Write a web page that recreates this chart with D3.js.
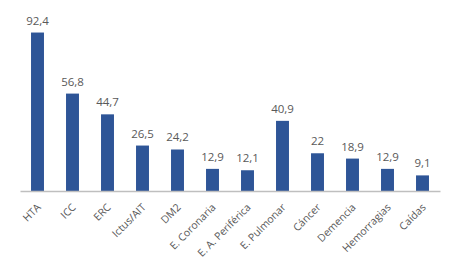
<!DOCTYPE html>
<html><head><meta charset="utf-8">
<script src="https://cdn.jsdelivr.net/npm/d3@7"></script>
<style>body{margin:0;background:#fff}svg{display:block}</style>
</head><body>
<script>
const categories = ["HTA","ICC","ERC","Ictus/AIT","DM2","E. Coronaria","E. A. Periférica","E. Pulmonar","Cáncer","Demencia","Hemorragias","Caídas"];
const values = [92.4,56.8,44.7,26.5,24.2,12.9,12.1,40.9,22,18.9,12.9,9.1];
const valueLabels = ["92,4","56,8","44,7","26,5","24,2","12,9","12,1","40,9","22","18,9","12,9","9,1"];

const W=460,H=280;
const svg=d3.select("body").append("svg").attr("width",W).attr("height",H);
const x=d3.scaleBand().domain(categories).range([20,440]).paddingInner(0.63).paddingOuter(0.315);
const y=d3.scaleLinear().domain([0,100]).range([191,19.5]);
const font="'Open Sans', sans-serif";

svg.selectAll("rect.bar").data(values).join("rect")
  .attr("x",(d,i)=>x(categories[i])).attr("width",x.bandwidth())
  .attr("y",d=>y(d)).attr("height",d=>y(0)-y(d)).attr("fill","#2E5597");

svg.selectAll("text.v").data(values).join("text")
  .attr("x",(d,i)=>x(categories[i])+x.bandwidth()/2).attr("y",d=>y(d)-8)
  .attr("text-anchor","middle").attr("font-family",font).attr("font-size",11.5)
  .attr("fill","#595959").text((d,i)=>valueLabels[i]);

const ax=svg.append("g").attr("transform",`translate(0,${y(0)})`)
  .call(d3.axisBottom(x).tickSize(0).tickPadding(0));
ax.select(".domain").attr("stroke","#BFBFBF").attr("stroke-width",1.5);
ax.selectAll("text").attr("font-family",font).attr("font-size",10.5).attr("fill","#595959")
  .attr("text-anchor","end").attr("dy",null).attr("y",0)
  .attr("transform","translate(4,17) rotate(-45)");
</script>
</body></html>
